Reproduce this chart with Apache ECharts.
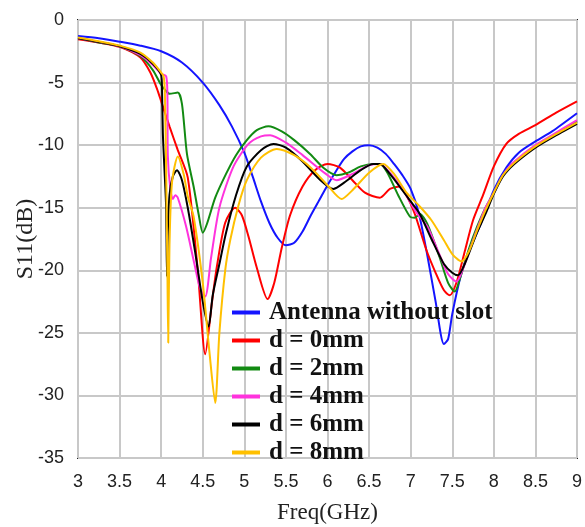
<!DOCTYPE html>
<html>
<head>
<meta charset="utf-8">
<script src="https://cdn.jsdelivr.net/npm/echarts@6/dist/echarts.min.js"></script>
<style>
html,body{margin:0;padding:0;background:#fff;}
#chart{width:585px;height:527px;}
</style>
</head>
<body>
<div id="chart"></div>
<script>
// Legend names
const seriesNames = ['Antenna without slot', 'd = 0mm', 'd = 2mm', 'd = 4mm', 'd = 6mm', 'd = 8mm'];

// Antenna without slot
const freqNoSlot = [3, 3.25, 3.5, 3.75, 4, 4.25, 4.5, 4.7, 4.85, 5.0, 5.1, 5.2, 5.3, 5.4, 5.5, 5.6, 5.7, 5.8, 5.9, 6.0, 6.1, 6.2, 6.3, 6.4, 6.5, 6.6, 6.7, 6.8, 6.9, 7.0, 7.1, 7.2, 7.3, 7.4, 7.45, 7.5, 7.6, 7.7, 7.83, 8.0, 8.15, 8.3, 8.5, 8.7, 9.0];
const s11NoSlot = [-1.28, -1.45, -1.73, -2.05, -2.5, -3.4, -5.0, -6.8, -8.5, -10.6, -12.5, -14.5, -16.2, -17.4, -18.0, -17.8, -16.9, -15.6, -14.4, -13.2, -12.1, -11.1, -10.5, -10.1, -10.0, -10.2, -10.7, -11.5, -12.4, -13.5, -15.5, -18.8, -22.5, -25.9, -25.5, -23.5, -20.5, -18.5, -16.5, -13.6, -11.8, -10.6, -9.7, -8.9, -7.45];

// d = 0mm
const freqD0 = [3, 3.25, 3.5, 3.75, 3.87, 3.95, 4.0, 4.1, 4.2, 4.32, 4.44, 4.53, 4.61, 4.67, 4.77, 4.89, 4.97, 5.05, 5.15, 5.28, 5.36, 5.45, 5.55, 5.7, 5.85, 6.0, 6.15, 6.3, 6.45, 6.63, 6.75, 6.87, 6.95, 7.05, 7.19, 7.3, 7.4, 7.47, 7.55, 7.65, 7.75, 7.87, 8.0, 8.15, 8.3, 8.5, 8.75, 9.0];
const s11D0 = [-1.53, -1.8, -2.15, -3.0, -4.2, -5.5, -6.5, -8.5, -10.4, -12.6, -20.0, -26.7, -22.6, -19.7, -16.2, -15.0, -15.6, -17.3, -19.8, -22.3, -21.0, -18.2, -15.6, -13.3, -12.0, -11.5, -11.8, -12.8, -13.8, -14.2, -13.5, -13.3, -14.0, -15.5, -18.4, -20.2, -21.6, -22.0, -21.0, -18.5, -16.0, -14.0, -11.7, -9.9, -9.1, -8.4, -7.4, -6.5];

// d = 2mm
const freqD2 = [3, 3.25, 3.5, 3.75, 3.9, 4.0, 4.05, 4.1, 4.2, 4.25, 4.31, 4.39, 4.45, 4.5, 4.55, 4.65, 4.78, 4.9, 5.03, 5.15, 5.29, 5.45, 5.6, 5.79, 5.95, 6.11, 6.25, 6.4, 6.55, 6.63, 6.72, 6.85, 6.99, 7.05, 7.11, 7.2, 7.35, 7.45, 7.53, 7.6, 7.7, 7.8, 7.9, 8.0, 8.1, 8.2, 8.3, 8.5, 8.7, 9.0];
const s11D2 = [-1.45, -1.8, -2.1, -2.9, -4.0, -5.2, -5.6, -5.9, -5.8, -6.7, -10.7, -13.3, -15.5, -17.0, -16.3, -14.2, -12.3, -10.8, -9.6, -8.8, -8.5, -8.9, -9.6, -10.7, -11.8, -12.4, -12.2, -11.7, -11.5, -11.5, -12.2, -14.0, -15.7, -15.8, -15.5, -16.3, -19.0, -21.0, -21.7, -20.5, -18.3, -16.5, -15.0, -13.8, -12.5, -11.7, -11.1, -10.1, -9.3, -8.1];

// d = 4mm
const freqD4 = [3, 3.25, 3.5, 3.75, 3.9, 4.0, 4.06, 4.075, 4.08, 4.11, 4.14, 4.17, 4.2, 4.3, 4.4, 4.47, 4.53, 4.6, 4.7, 4.87, 5.05, 5.2, 5.31, 5.5, 5.7, 5.98, 6.11, 6.3, 6.5, 6.63, 6.75, 6.9, 7.07, 7.2, 7.35, 7.45, 7.55, 7.65, 7.75, 7.9, 8.0, 8.1, 8.2, 8.3, 8.5, 8.7, 9.0];
const s11D4 = [-1.45, -1.75, -2.1, -2.8, -3.6, -4.3, -4.5, -6.0, -10.8, -13.5, -14.3, -14.0, -14.2, -16.5, -19.5, -21.5, -22.1, -19.0, -15.0, -11.7, -9.9, -9.3, -9.2, -9.8, -10.8, -12.3, -12.8, -12.3, -11.6, -11.5, -12.2, -13.5, -15.4, -16.5, -18.8, -20.3, -20.9, -19.5, -17.6, -15.0, -13.8, -12.5, -11.6, -11.0, -10.0, -9.2, -8.0];

// d = 6mm
const freqD6 = [3, 3.25, 3.5, 3.75, 3.9, 4.0, 4.01, 4.02, 4.04, 4.06, 4.07, 4.08, 4.1, 4.14, 4.19, 4.25, 4.32, 4.41, 4.5, 4.57, 4.62, 4.7, 4.78, 4.9, 5.03, 5.2, 5.35, 5.5, 5.7, 5.9, 6.07, 6.2, 6.4, 6.55, 6.63, 6.75, 6.9, 7.0, 7.11, 7.25, 7.4, 7.5, 7.57, 7.65, 7.79, 7.9, 8.0, 8.1, 8.2, 8.3, 8.5, 8.7, 9.0];
const s11D6 = [-1.45, -1.75, -2.1, -2.7, -3.5, -4.4, -5.5, -9.0, -12.0, -15.0, -20.5, -17.0, -14.0, -12.5, -12.0, -12.8, -15.0, -18.6, -22.5, -24.5, -22.0, -19.5, -17.0, -14.0, -11.7, -10.4, -9.9, -10.2, -11.3, -12.7, -13.5, -13.0, -12.0, -11.5, -11.5, -12.3, -13.6, -14.5, -15.5, -17.5, -19.5, -20.2, -20.4, -19.5, -17.1, -15.5, -13.9, -12.6, -11.8, -11.2, -10.2, -9.4, -8.3];

// d = 8mm
const freqD8 = [3, 3.25, 3.5, 3.75, 3.9, 4.0, 4.03, 4.045, 4.06, 4.075, 4.085, 4.1, 4.13, 4.2, 4.27, 4.32, 4.39, 4.5, 4.58, 4.65, 4.7, 4.77, 4.83, 4.93, 5.03, 5.2, 5.39, 5.6, 5.8, 6.0, 6.17, 6.3, 6.5, 6.67, 6.8, 6.95, 7.11, 7.25, 7.4, 7.5, 7.61, 7.7, 7.8, 7.9, 8.0, 8.1, 8.2, 8.3, 8.5, 8.7, 9.0];
const s11D8 = [-1.4, -1.7, -2.05, -2.6, -3.4, -4.2, -4.5, -6.0, -12.0, -20.0, -25.8, -18.0, -13.0, -10.9, -12.3, -14.1, -15.7, -21.0, -26.5, -30.6, -25.0, -20.0, -17.6, -14.8, -12.8, -11.0, -10.3, -10.8, -11.8, -13.2, -14.3, -13.6, -12.2, -11.5, -12.3, -13.8, -14.9, -16.0, -17.6, -18.7, -19.3, -18.5, -16.8, -15.2, -13.8, -12.5, -11.7, -11.1, -10.1, -9.3, -8.2];

// Axis ticks
const xMin = 3, xMax = 9, xStep = 0.5;
const yMin = -35, yMax = 0, yStep = 5;

const freqs = [freqNoSlot, freqD0, freqD2, freqD4, freqD6, freqD8];
const vals = [s11NoSlot, s11D0, s11D2, s11D4, s11D6, s11D8];
const colors = ['#1414ff', '#ff0000', '#128a12', '#ff33dd', '#000000', '#ffc000'];

const chart = echarts.init(document.getElementById('chart'), null, {renderer: 'canvas'});

const series = seriesNames.map((name, i) => ({
  name: name,
  type: 'line',
  data: freqs[i].map((f, k) => [f, vals[i][k]]),
  showSymbol: false,
  symbol: 'none',
  smooth: 0.25,
  lineStyle: {width: 2, color: colors[i]},
  itemStyle: {color: colors[i]},
  z: 2 + i
}));

chart.setOption({
  animation: false,
  backgroundColor: '#ffffff',
  grid: {
    left: 78, right: 8, top: 20, bottom: 69,
    containLabel: false,
    outerBoundsMode: 'none',
    show: true, borderColor: '#222', borderWidth: 2, backgroundColor: 'transparent'
  },
  legend: {
    orient: 'vertical',
    left: 227,
    top: 295,
    itemWidth: 28,
    itemHeight: 4,
    itemGap: 3,
    icon: 'rect',
    data: seriesNames,
    textStyle: {
      fontFamily: 'Liberation Serif',
      fontWeight: 'bold',
      fontSize: 25,
      color: '#111',
      padding: [0, 0, 0, 4]
    }
  },
  xAxis: {
    type: 'value',
    min: xMin, max: xMax, interval: xStep,
    name: 'Freq(GHz)',
    nameLocation: 'middle',
    nameGap: 43,
    nameMoveOverlap: false,
    nameTextStyle: {fontFamily: 'Liberation Serif', fontSize: 23, color: '#222'},
    axisLine: {show: false},
    axisTick: {show: false},
    axisLabel: {fontFamily: 'Liberation Sans', fontSize: 18, color: '#222', margin: 15},
    splitLine: {show: true, lineStyle: {color: '#c8c8c8', width: 2}}
  },
  yAxis: {
    type: 'value',
    min: yMin, max: yMax, interval: yStep,
    name: 'S11(dB)',
    nameLocation: 'middle',
    nameGap: 40,
    nameMoveOverlap: false,
    nameRotate: 90,
    nameTextStyle: {fontFamily: 'Liberation Serif', fontSize: 24, color: '#222'},
    axisLine: {show: false},
    axisTick: {show: false},
    axisLabel: {fontFamily: 'Liberation Sans', fontSize: 18, color: '#222', margin: 14},
    splitLine: {show: true, lineStyle: {color: '#c8c8c8', width: 2}}
  },
  series: series
});
</script>
</body>
</html>
